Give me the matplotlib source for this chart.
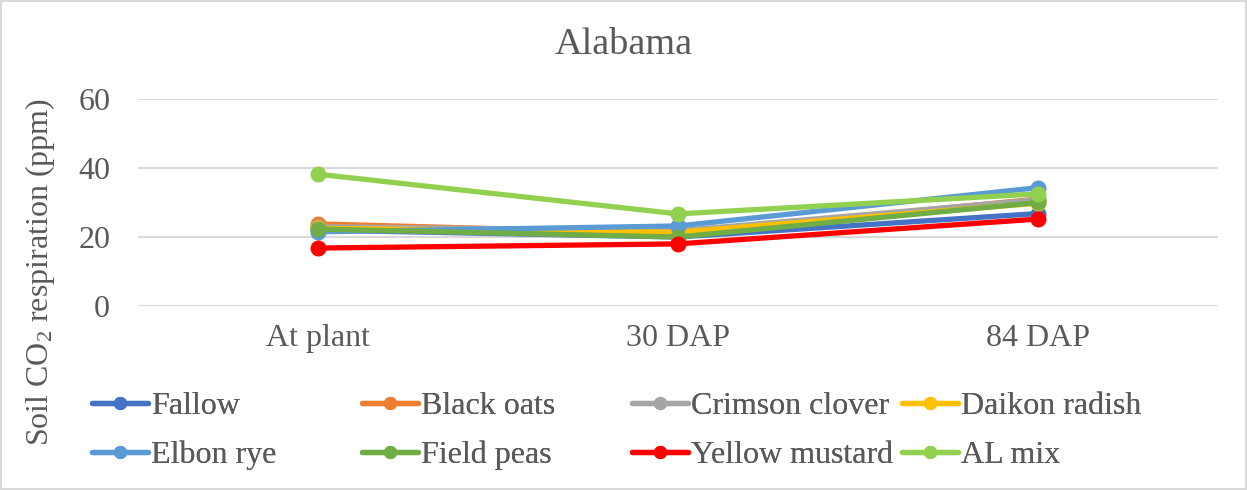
import matplotlib
matplotlib.use("Agg")
import matplotlib.pyplot as plt
from matplotlib.patches import Rectangle

plt.rcParams['font.family'] = ['Liberation Serif', 'DejaVu Serif']
plt.rcParams['mathtext.fontset'] = 'custom'
plt.rcParams['mathtext.rm'] = 'Liberation Serif'
plt.rcParams['mathtext.it'] = 'Liberation Serif:italic'

categories = ["At plant", "30 DAP", "84 DAP"]
series_names = ["Fallow", "Black oats", "Crimson clover", "Daikon radish",
                "Elbon rye", "Field peas", "Yellow mustard", "AL mix"]
fallow = [22.0, 20.0, 26.8]
black_oats = [23.8, 21.0, 31.0]
crimson_clover = [23.0, 21.8, 30.8]
daikon_radish = [22.5, 21.4, 29.8]
elbon_rye = [21.5, 23.2, 34.3]
field_peas = [22.3, 20.0, 30.0]
yellow_mustard = [16.8, 18.0, 25.2]
al_mix = [38.2, 26.7, 32.5]
values = [fallow, black_oats, crimson_clover, daikon_radish,
          elbon_rye, field_peas, yellow_mustard, al_mix]
colors = ["#4472C4", "#ED7D31", "#A5A5A5", "#FFC000",
          "#5B9BD5", "#70AD47", "#FF0000", "#92D050"]
yticks = [0, 20, 40, 60]

W, H = 1247, 490
fig = plt.figure(figsize=(W / 100, H / 100), dpi=100)
ax = fig.add_axes([138 / W, 1 - 306 / H, 1080 / W, (306 - 99) / H])

x = list(range(len(categories)))
handles = []
for name, v, c in zip(series_names, values, colors):
    ln, = ax.plot(x, v, color=c, lw=3.8, marker='o', ms=10.5, mec=c, mfc=c,
                  solid_capstyle='round', label=name, zorder=3)
    handles.append(ln)

ax.set_xlim(-0.5, 2.5)
ax.set_ylim(0, 60)
ax.set_yticks(yticks)
ax.set_xticks(x)
ax.set_xticklabels(categories)
ax.grid(axis='y', color='#D9D9D9', lw=1.5)
ax.set_axisbelow(True)
for s in ['top', 'right', 'left', 'bottom']:
    ax.spines[s].set_visible(False)
ax.tick_params(axis='both', length=0, labelsize=23, colors='#595959')
ax.tick_params(axis='y', pad=20)
ax.tick_params(axis='x', pad=13)

fig.text(0.5, 1 - 45 / H, "Alabama", ha='center', va='center', fontsize=27.5, color='#595959')
fig.text(40 / W, 1 - 272 / H, "Soil CO$_2$ respiration (ppm)", rotation=90,
         ha='center', va='center', fontsize=23, color='#595959')

# legend: 4 columns, row-major order
col_x = [92, 362, 632, 902]
for ci in range(4):
    hs = [handles[ci], handles[ci + 4]]
    leg = fig.legend(handles=hs, labels=[h.get_label() for h in hs],
                     loc='center left', bbox_to_anchor=(col_x[ci] / W, 1 - 431 / H),
                     frameon=False, fontsize=23, labelcolor='#595959',
                     handlelength=1.75, handletextpad=0.1, labelspacing=0.6,
                     borderpad=0, borderaxespad=0)
    for lh in leg.legend_handles:
        lh.set_markersize(8.5)
        lh.set_linewidth(3.8)
    fig.add_artist(leg)

fig.add_artist(Rectangle((1 / W, 1 / H), 1 - 2 / W, 1 - 2 / H, transform=fig.transFigure,
                         fill=False, ec='#D9D9D9', lw=1.5))

fig.savefig("out.png", dpi=100)
